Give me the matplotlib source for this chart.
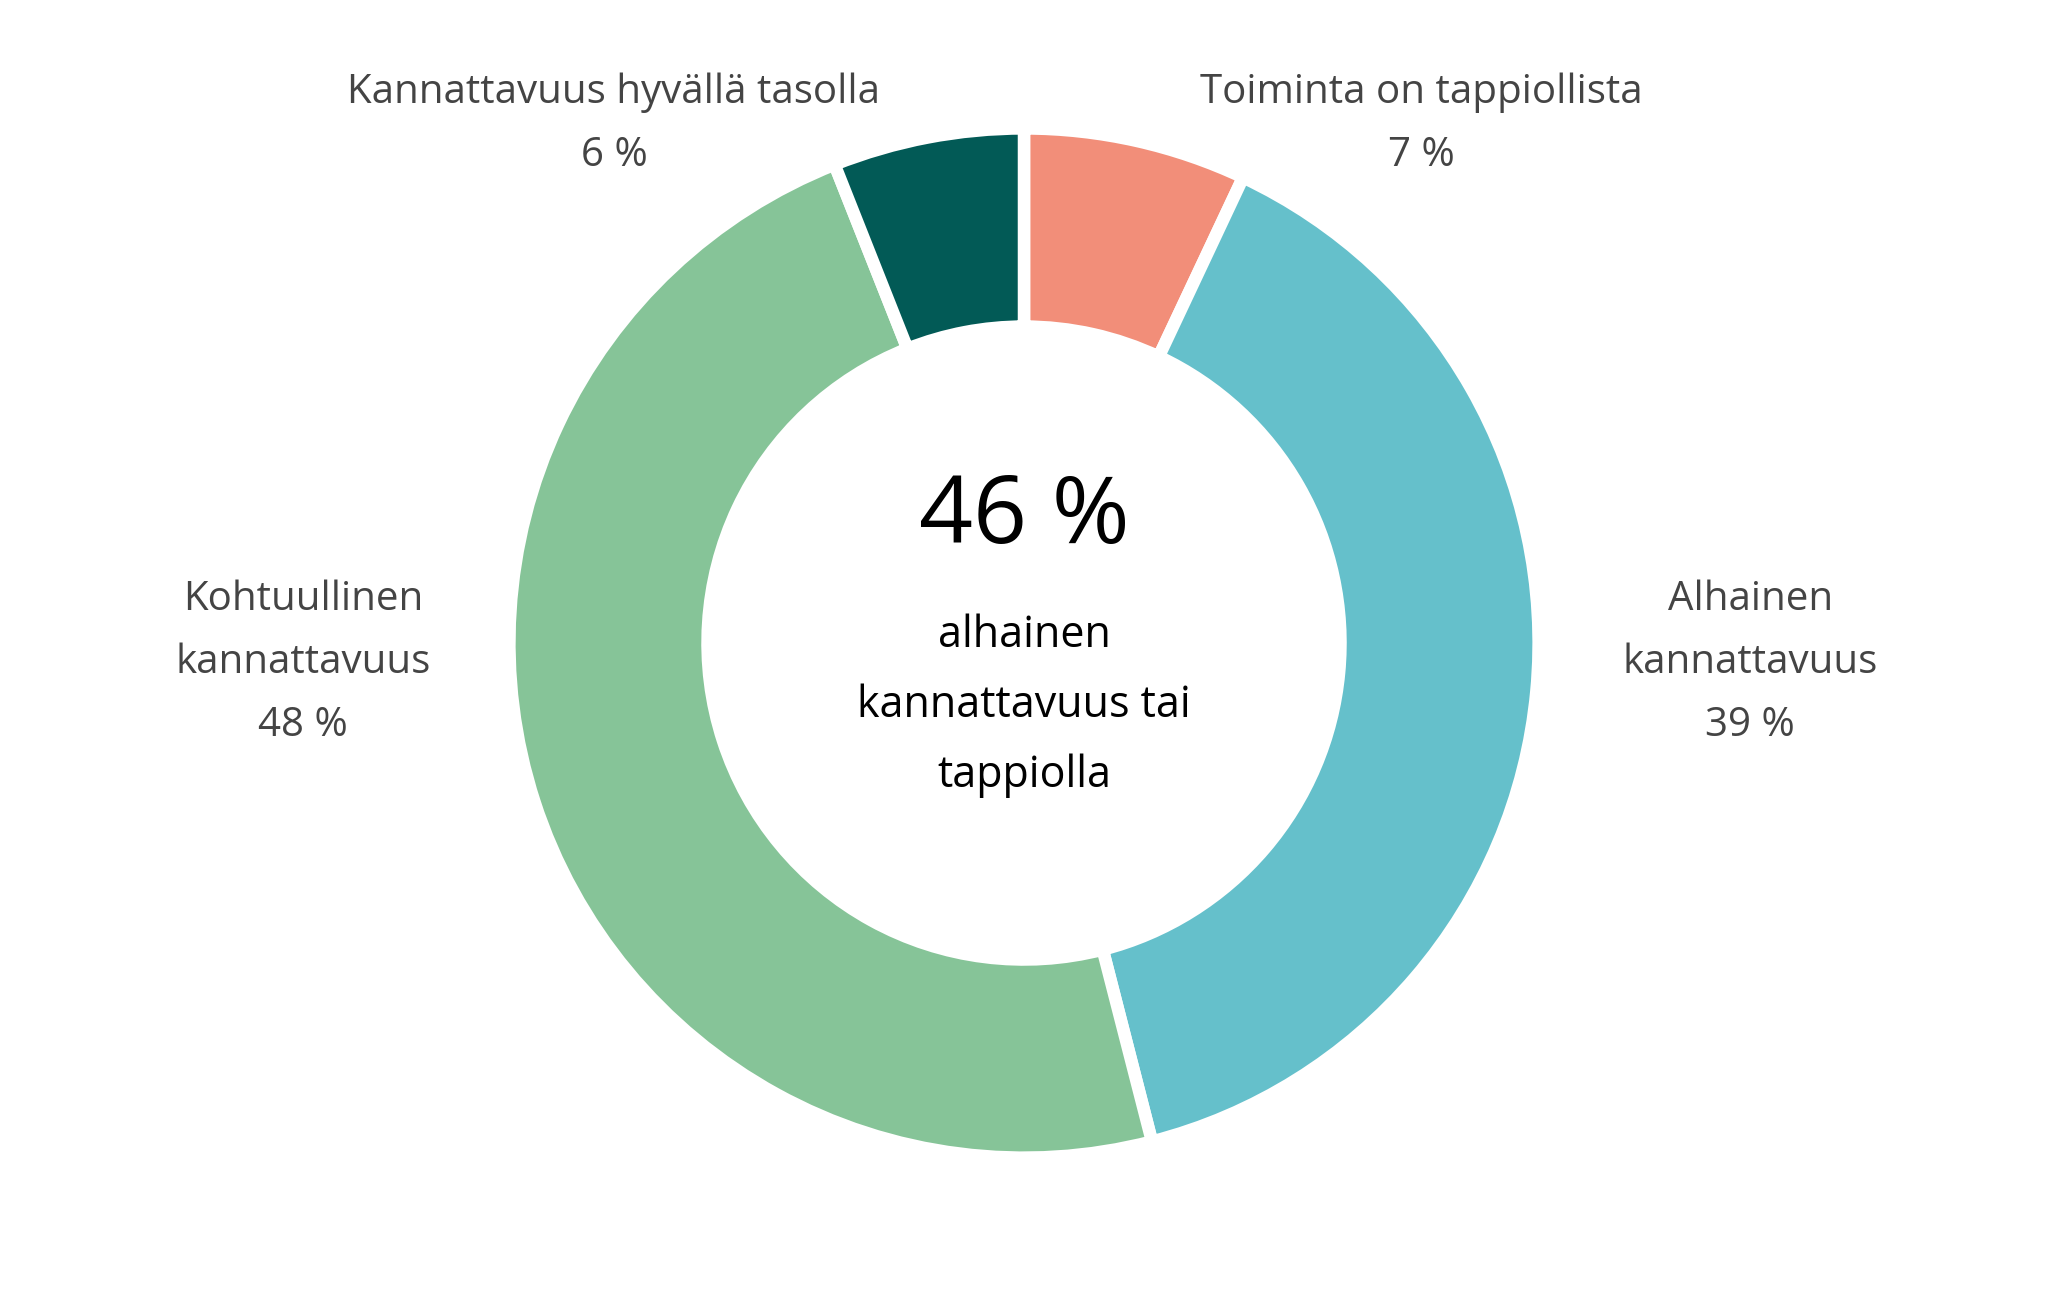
import matplotlib
matplotlib.use("Agg")
import matplotlib.pyplot as plt

labels = ["Toiminta on tappiollista", "Alhainen\nkannattavuus", "Kohtuullinen\nkannattavuus", "Kannattavuus hyvällä tasolla"]
values = [7, 39, 48, 6]
colors = ["#F28E79", "#65C0CB", "#86C498", "#025A56"]
center_value = "46 %"
center_text = "alhainen\nkannattavuus tai\ntappiolla"

W, H = 1568, 987
fig = plt.figure(figsize=(20.48, 12.90), dpi=100)
ax = fig.add_axes([0, 0, 1, 1])
ax.set_xlim(0, W); ax.set_ylim(0, H); ax.set_aspect("equal"); ax.axis("off")

cx, cy, R = 784, H - 492, 394
ax.pie(values, colors=colors, startangle=90, counterclock=False, center=(cx, cy), radius=R,
       wedgeprops=dict(width=R * 0.385, edgecolor="white", linewidth=9), frame=True)
ax.set_xlim(0, W); ax.set_ylim(0, H); ax.axis("off")

fam = ["Open Sans", "DejaVu Sans"]
gray = "#444444"
pos = [(1088, 95), (1340, 507), (232, 507), (470, 95)]
for lab, v, (x, y) in zip(labels, values, pos):
    ax.text(x, H - y, f"{lab}\n{v} %", ha="center", va="center", fontsize=29, color=gray,
            family=fam, linespacing=1.75)

ax.text(cx, H - 397, center_value, ha="center", va="center", fontsize=68, color="black", family=fam)
ax.text(cx, H - 540, center_text, ha="center", va="center", fontsize=31, color="black", family=fam,
        linespacing=1.75)
fig.savefig("out.png", dpi=100)
